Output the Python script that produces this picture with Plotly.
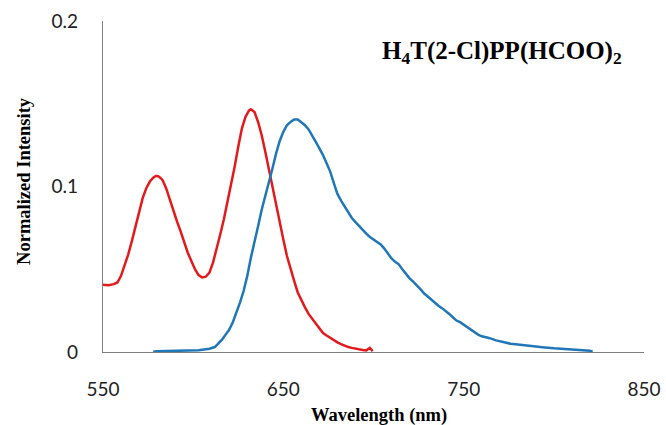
import plotly.graph_objects as go

# Red spectrum
red_wl = [550, 553, 556, 558, 560, 562, 564, 566, 568, 570, 572, 574, 576, 578, 579.5, 581, 583, 585,
          587, 589, 591, 593, 595, 597, 599, 601, 603, 605, 607, 609, 611, 613, 615, 617, 619, 621,
          623, 625, 627, 629, 631, 632, 634, 636, 638, 640, 642, 644, 646, 648, 650, 652, 654, 656,
          658, 660, 662, 664, 666, 668, 670, 672, 674, 676, 678, 680, 682, 684, 686, 688, 690, 692,
          694, 696, 697, 698, 699, 699.5]
red_y = [0.0406, 0.0404, 0.041, 0.042, 0.046, 0.052, 0.059, 0.067, 0.076, 0.085, 0.093, 0.099, 0.103,
         0.1055, 0.1065, 0.106, 0.104, 0.099, 0.092, 0.085, 0.079, 0.073, 0.066, 0.060, 0.055, 0.050,
         0.0465, 0.045, 0.0455, 0.048, 0.054, 0.062, 0.071, 0.080, 0.090, 0.101, 0.112, 0.124, 0.135,
         0.142, 0.146, 0.1467, 0.145, 0.139, 0.131, 0.121, 0.110, 0.099, 0.089, 0.079, 0.068, 0.058,
         0.050, 0.043, 0.036, 0.031, 0.027, 0.023, 0.020, 0.017, 0.014, 0.0115, 0.010, 0.0085, 0.007,
         0.0058, 0.0048, 0.0038, 0.003, 0.0025, 0.002, 0.0018, 0.0012, 0.001, 0.0018, 0.0025, 0.0012,
         0.0005]

# Blue spectrum
blue_wl = [577.8, 580, 585, 590, 595, 600, 603, 606, 609, 612, 614, 616, 618, 620, 622, 624, 626, 628,
           630, 632, 634, 636, 638, 640, 642, 644, 646, 648, 650, 652, 654, 656, 658, 660, 662, 664,
           666, 668, 670, 672, 674, 676, 678, 680, 682, 684, 686, 688, 690, 692, 694, 696, 698, 700,
           702, 704, 706, 708, 710, 712, 714, 716, 718, 720, 722, 724, 726, 728, 730, 732, 734, 736,
           738, 740, 742, 744, 746, 748, 750, 752, 754, 756, 758, 760, 764, 768, 772, 776, 780, 785,
           790, 795, 800, 805, 810, 815, 820, 821.5]
blue_y = [0.0002, 0.0005, 0.0006, 0.0006, 0.0006, 0.0007, 0.001, 0.0015, 0.002, 0.003, 0.005, 0.0075,
          0.0105, 0.0135, 0.018, 0.0235, 0.030, 0.037, 0.046, 0.057, 0.066, 0.076, 0.086, 0.094, 0.102,
          0.111, 0.120, 0.1275, 0.133, 0.137, 0.139, 0.1405, 0.1405, 0.139, 0.137, 0.1345, 0.131, 0.127,
          0.123, 0.119, 0.114, 0.109, 0.102, 0.0955, 0.0915, 0.088, 0.0845, 0.081, 0.0785, 0.076,
          0.0735, 0.0715, 0.0695, 0.068, 0.0665, 0.065, 0.0625, 0.0595, 0.0565, 0.0545, 0.053, 0.050,
          0.047, 0.0445, 0.0425, 0.0405, 0.038, 0.0355, 0.0335, 0.0315, 0.0295, 0.028, 0.0265, 0.025,
          0.023, 0.021, 0.019, 0.018, 0.0165, 0.015, 0.0135, 0.0115, 0.0105, 0.0095, 0.0085, 0.007,
          0.006, 0.005, 0.0045, 0.0038, 0.0032, 0.0027, 0.0022, 0.0018, 0.0012, 0.001, 0.0008, 0.0002]

x_ticks = [550, 650, 750, 850]
y_ticks = [0, 0.1, 0.2]
y_tick_text = ["0", "0.1", "0.2"]

fig = go.Figure()
fig.add_trace(go.Scatter(x=red_wl, y=red_y, mode="lines",
                         line=dict(color="#E3191C", width=2.5), showlegend=False))
fig.add_trace(go.Scatter(x=blue_wl, y=blue_y, mode="lines",
                         line=dict(color="#1F77B8", width=2.5), showlegend=False))

tick_font = dict(family="Lato", size=19, color="#222222")
fig.update_layout(
    width=666, height=425,
    margin=dict(l=103, r=22, t=21, b=73, autoexpand=False),
    paper_bgcolor="white", plot_bgcolor="white",
    xaxis=dict(range=[550, 850], tickvals=x_ticks, ticktext=[str(v) for v in x_ticks],
               showgrid=False, zeroline=False, showline=True, linecolor="#7f7f7f", linewidth=1.3,
               ticks="outside", ticklen=20, tickcolor="rgba(0,0,0,0)", tickfont=tick_font,
               ticklabeloverflow="allow", automargin=False),
    yaxis=dict(range=[0, 0.2], tickvals=y_ticks, ticktext=y_tick_text,
               showgrid=False, zeroline=False, showline=True, linecolor="#7f7f7f", linewidth=1.3,
               ticks="outside", ticklen=20, tickcolor="rgba(0,0,0,0)", tickfont=tick_font,
               automargin=False),
    annotations=[
        dict(text="<b>H<sub>4</sub>T(2-Cl)PP(HCOO)<sub>2</sub></b>", xref="paper", yref="paper",
             x=0.7375, y=0.905, xanchor="center", yanchor="middle", showarrow=False,
             font=dict(family="Liberation Serif", size=25, color="black")),
        dict(text="<b>Wavelength (nm)</b>", xref="paper", yref="paper",
             x=0.511, y=-0.193, xanchor="center", yanchor="middle", showarrow=False,
             font=dict(family="Liberation Serif", size=18.5, color="black")),
        dict(text="<b>Normalized Intensity</b>", xref="paper", yref="paper",
             x=-0.146, y=0.517, xanchor="center", yanchor="middle", showarrow=False, textangle=-90,
             font=dict(family="Liberation Serif", size=18.5, color="black")),
    ],
)
fig.write_html("out.html")
